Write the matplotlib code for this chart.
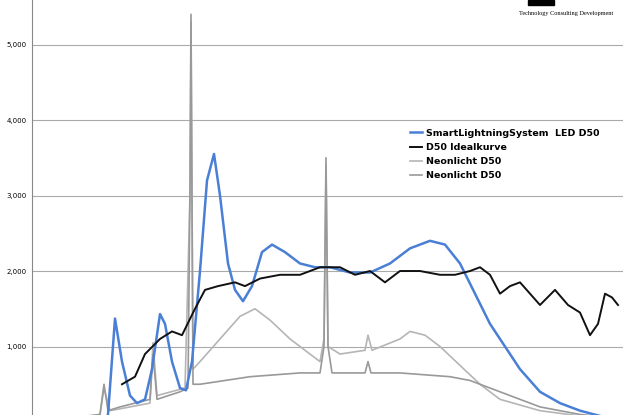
import matplotlib
matplotlib.use("Agg")
import matplotlib.pyplot as plt
import numpy as np

blue_x = [104,108,115,122,130,137,145,152,160,165,172,180,186,192,200,207,214,220,228,235,243,252,262,272,285,300,315,330,350,370,390,410,430,445,460,475,490,505,520,540,560,580,600,615]
blue_y = [0,100,1370,800,350,250,300,700,1430,1300,800,450,420,800,2000,3200,3550,3000,2100,1750,1600,1800,2250,2350,2250,2100,2050,2050,1980,1980,2100,2300,2400,2350,2100,1700,1300,1000,700,400,250,150,80,30]
black_x = [122,135,145,160,172,182,195,205,218,235,245,260,280,300,320,340,355,370,385,400,420,440,455,470,480,490,500,510,520,530,540,555,568,580,590,598,605,612,618]
black_y = [500,600,900,1100,1200,1150,1500,1750,1800,1850,1800,1900,1950,1950,2050,2050,1950,2000,1850,2000,2000,1950,1950,2000,2050,1950,1700,1800,1850,1700,1550,1750,1550,1450,1150,1300,1700,1650,1550]
gray1_x = [32,80,100,104,108,120,150,153,157,180,188,190,191,193,200,250,300,320,324,326,328,332,365,368,371,400,450,470,500,540,580,615]
gray1_y = [0,60,100,500,150,200,300,900,300,400,450,3100,5400,500,500,600,650,650,1000,3500,1000,650,650,800,650,650,600,550,400,200,100,50]
gray2_x = [32,100,104,110,150,153,157,185,190,191,193,200,220,240,255,270,290,310,320,324,326,328,340,365,368,372,400,410,425,440,460,480,500,540,580,615]
gray2_y = [0,100,450,150,250,1050,350,450,3000,5300,700,800,1100,1400,1500,1350,1100,900,800,1100,3400,1000,900,950,1150,950,1100,1200,1150,1000,750,500,300,150,80,40]
labels = ["SmartLightningSystem  LED D50", "D50 Idealkurve", "Neonlicht D50", "Neonlicht D50"]

fig = plt.figure(figsize=(6.23, 4.15), dpi=100)
ax = fig.add_axes([32/623, -7/415, 591/623, 422/415])
ax.set_xlim(32, 623)
ax.set_ylim(0, 5590)
for v in [1000, 2000, 3000, 4000, 5000]:
    ax.axhline(v, color="#aaaaaa", lw=0.8, zorder=0)
l3, = ax.plot(gray2_x, gray2_y, color="#b5b5b5", lw=1.2)
l4, = ax.plot(gray1_x, gray1_y, color="#999999", lw=1.2)
l1, = ax.plot(blue_x, blue_y, color="#4a7fd6", lw=1.8)
l2, = ax.plot(black_x, black_y, color="#111111", lw=1.4)
ax.set_yticks([1000, 2000, 3000, 4000, 5000])
ax.set_yticklabels(["1,000", "2,000", "3,000", "4,000", "5,000"], fontsize=5)
ax.tick_params(axis="y", length=0, pad=4)
ax.set_xticks([])
for s in ["top", "right", "bottom"]:
    ax.spines[s].set_visible(False)
ax.spines["left"].set_color("#888888")
ax.legend([l1, l2, l3, l4], labels, loc="upper left", bbox_to_anchor=(0.64, 0.695),
          frameon=False, prop={"weight": "bold", "size": 6.8}, handlelength=1.2,
          labelspacing=0.55, handletextpad=0.5, borderaxespad=0, borderpad=0)
fig.patches.append(plt.Rectangle((528/623, 410/415), 26/623, 5/415, transform=fig.transFigure, color="black"))
fig.text(566/623, 402/415, "Technology Consulting Development", fontsize=4.5, family="Liberation Serif", ha="center", va="center")
fig.savefig("out.png", dpi=100)
